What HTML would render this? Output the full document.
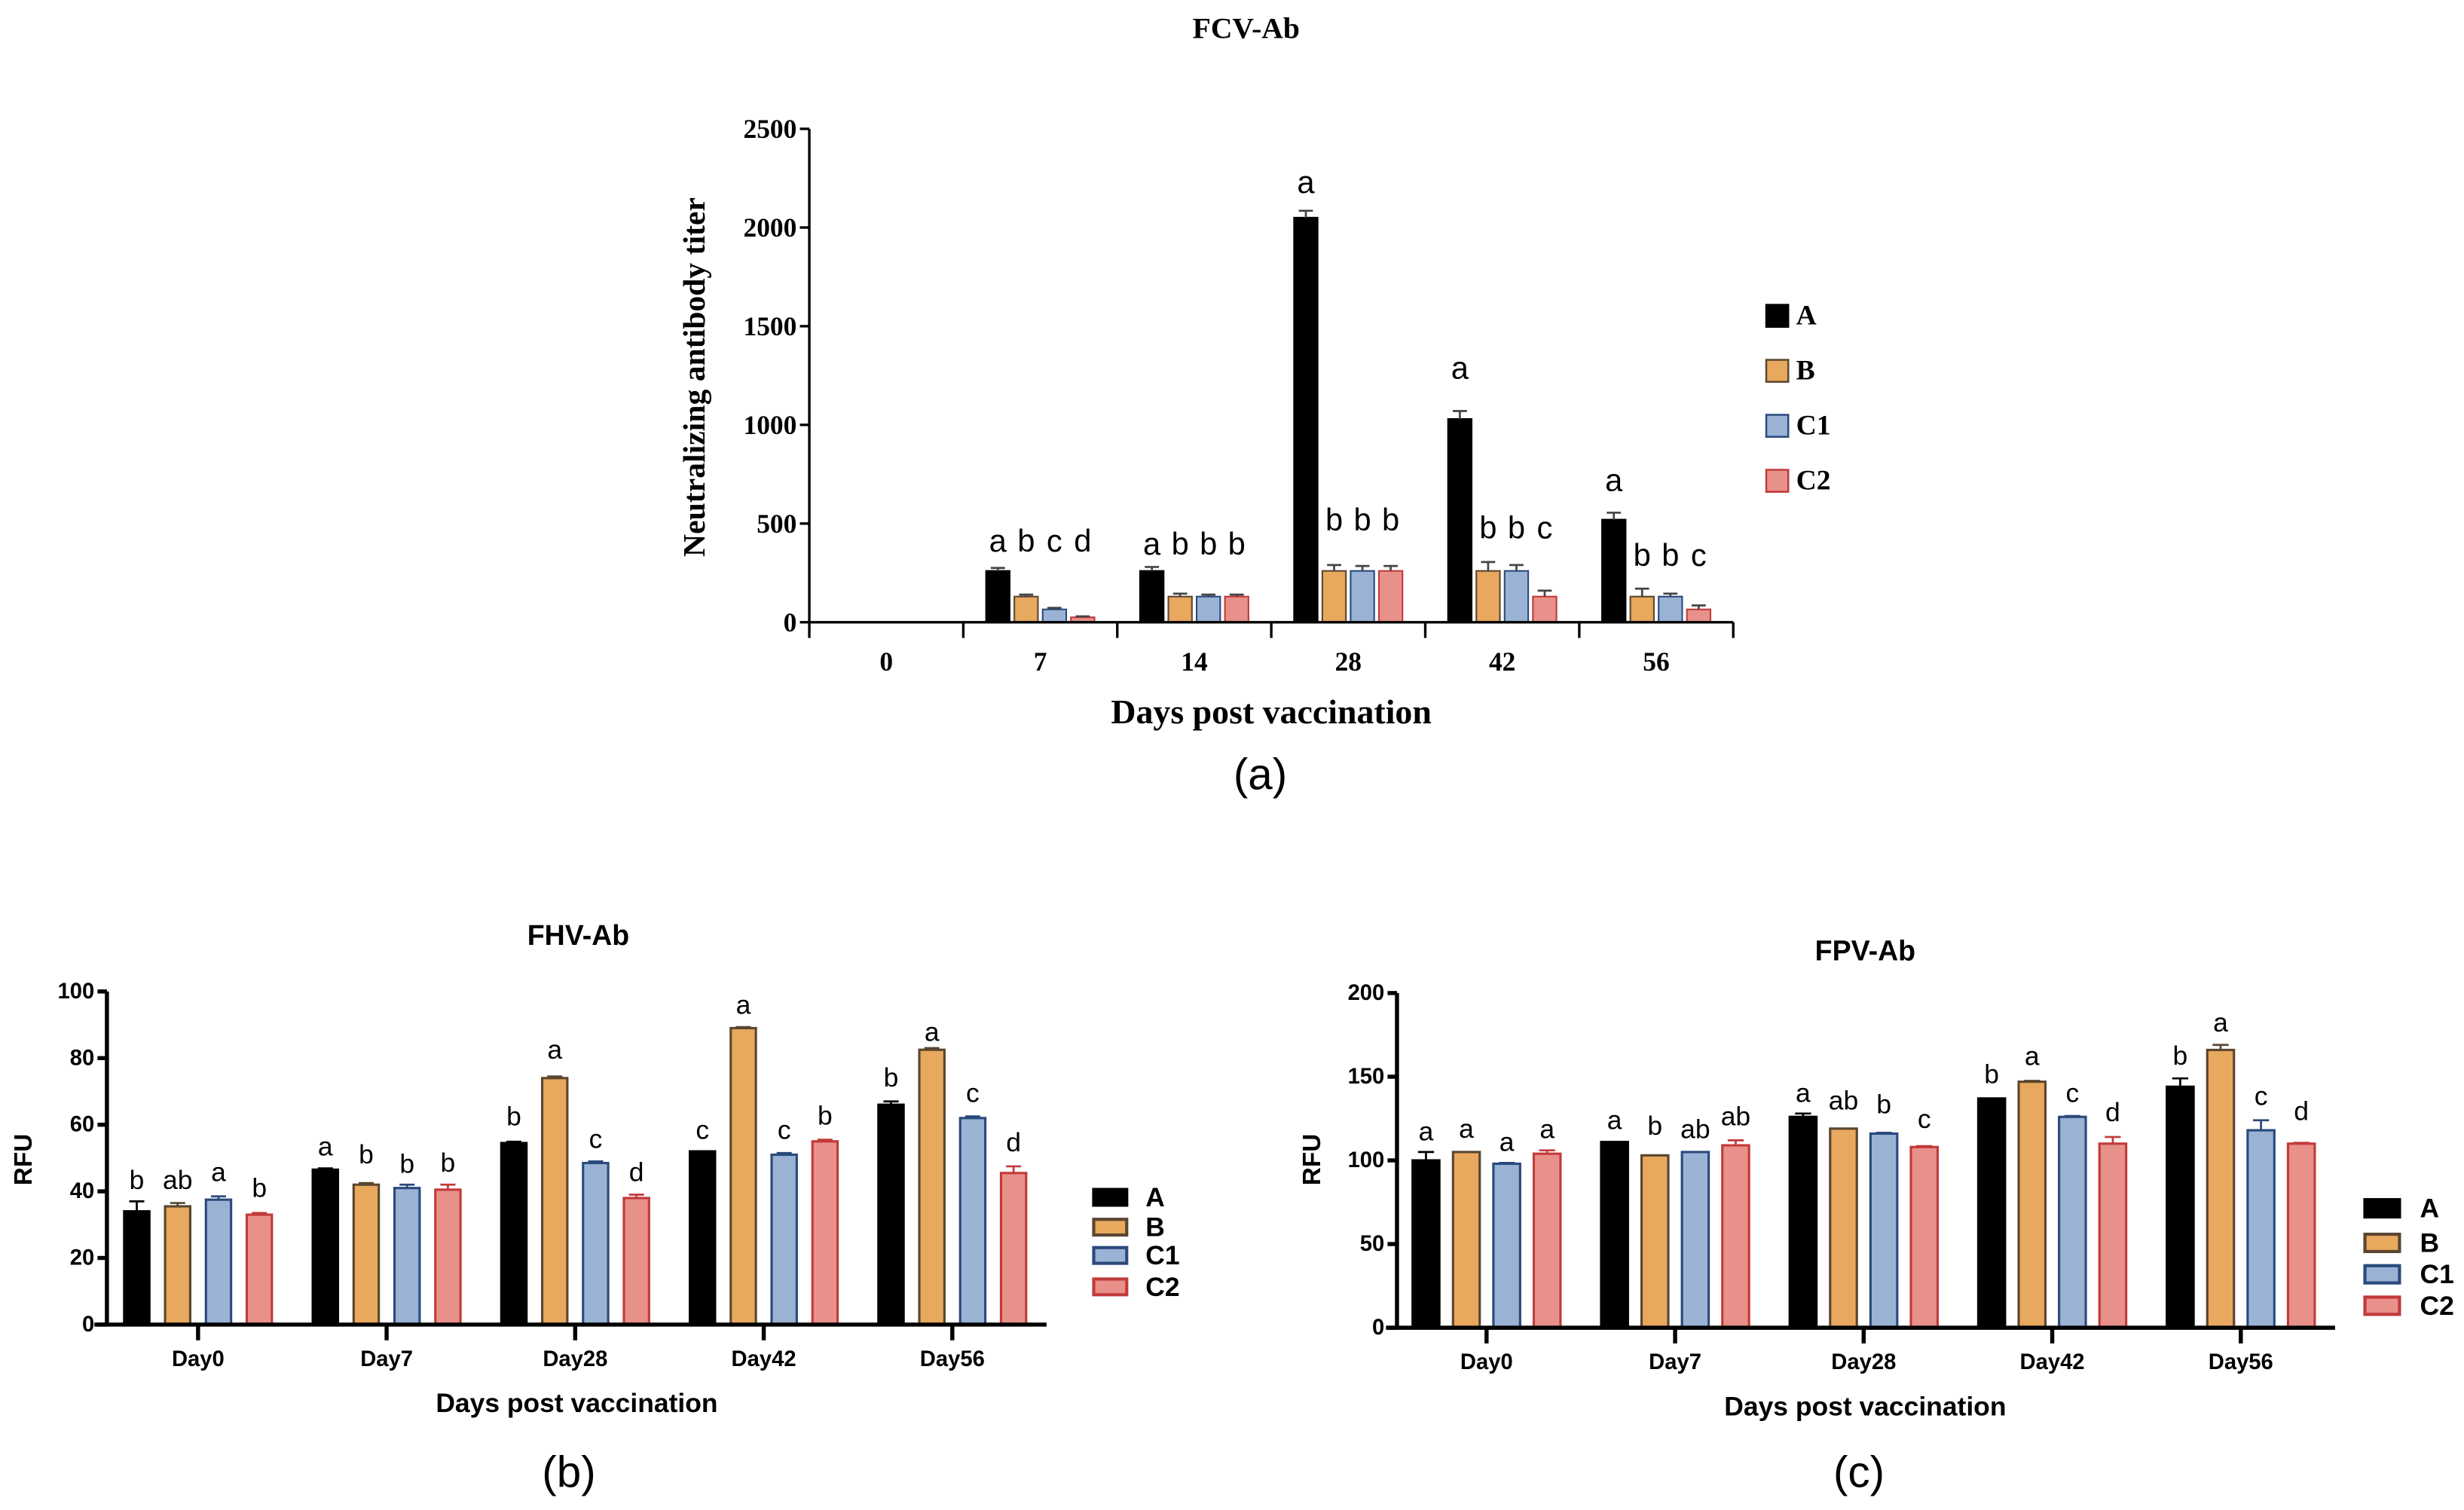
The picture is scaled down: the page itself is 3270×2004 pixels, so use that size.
<!DOCTYPE html>
<html><head><meta charset="utf-8"><style>
html,body{margin:0;padding:0;background:#fff;}
svg{display:block;}
.serif{font-family:"Liberation Serif",serif;font-weight:bold;}
.sans{font-family:"Liberation Sans",sans-serif;}
</style></head><body>
<svg id="fig" width="3270" height="2004" viewBox="0 0 1568 961" xmlns="http://www.w3.org/2000/svg">
<g id="ga"></g>
<g id="gb"></g>
<g id="gc"></g>
</svg>
<script>
// ---- Chart (a) FCV-Ab data ----
const aCats = ["0","7","14","28","42","56"];
const aTicks = [0,500,1000,1500,2000,2500];
const aA  = [0,260,260,2050,1030,520];
const aB  = [0,130,130,260,260,130];
const aC1 = [0,65,130,260,260,130];
const aC2 = [0,25,130,260,130,65];
const aErrA  = [0,15,20,35,40,35];
const aErrB  = [0,10,15,30,45,40];
const aErrC1 = [0,8,10,25,30,15];
const aErrC2 = [0,5,10,25,30,20];
const aLetA  = ["","a","a","a","a","a"];
const aLetB  = ["","b","b","b","b","b"];
const aLetC1 = ["","c","b","b","b","b"];
const aLetC2 = ["","d","b","b","c","c"];
const aLvlA  = [0,414,398,2230,1290,720];
const aLvlB  = [0,414,398,520,480,340];
const aLvlC1 = [0,414,398,520,480,340];
const aLvlC2 = [0,414,398,520,480,340];

// ---- Chart (b) FHV-Ab data ----
const bCats = ["Day0","Day7","Day28","Day42","Day56"];
const bTicks = [0,20,40,60,80,100];
const bA  = [34,46.5,54.5,52,66];
const bB  = [35.5,42,74,89,82.5];
const bC1 = [37.5,41,48.5,51,62];
const bC2 = [33,40.5,38,55,45.5];
const bErrA  = [3,0.4,0.4,0,1];
const bErrB  = [1,0.5,0.5,0.3,0.5];
const bErrC1 = [1,1,0.5,0.5,0.5];
const bErrC2 = [0.5,1.5,1,0.5,2];
const bLetA  = ["b","a","b","c","b"];
const bLetB  = ["ab","b","a","a","a"];
const bLetC1 = ["a","b","c","c","c"];
const bLetC2 = ["b","b","d","b","d"];
const bLvlA  = [43.4,53.5,62.5,58.5,74.2];
const bLvlB  = [43.4,51.1,82.6,96.0,87.9];
const bLvlC1 = [45.8,48.3,55.7,58.5,69.5];
const bLvlC2 = [41.0,48.6,45.8,62.7,54.7];

// ---- Chart (c) FPV-Ab data ----
const cCats = ["Day0","Day7","Day28","Day42","Day56"];
const cTicks = [0,50,100,150,200];
const cA  = [100,111,126,137,144];
const cB  = [105,103,119,147,166];
const cC1 = [98,105,116,126,118];
const cC2 = [104,109,108,110,110];
const cErrA  = [5,0,2,0,5];
const cErrB  = [0,0,0,0.5,3];
const cErrC1 = [0.5,0,0.5,0.5,6];
const cErrC2 = [2,3,0.5,4,0.5];
const cLetA  = ["a","a","a","b","b"];
const cLetB  = ["a","b","ab","a","a"];
const cLetC1 = ["a","ab","b","c","c"];
const cLetC2 = ["a","ab","c","d","d"];
const cLvlA  = [117.3,124.1,140.4,151.6,162.7];
const cLvlB  = [119,120.8,135.9,162.3,182.4];
const cLvlC1 = [111,118.8,133.6,140.4,138.4];
const cLvlC2 = [118.8,126.4,124.7,128.9,129.4];

const NS="http://www.w3.org/2000/svg";
function mk(parent,tag,attrs,text){
  const e=document.createElementNS(NS,tag);
  for(const k in attrs) e.setAttribute(k,attrs[k]);
  if(text!==undefined) e.textContent=text;
  parent.appendChild(e); return e;
}
const fills=["#000000","#E8A85E","#9AB3D5","#E8908A"];
const strokes=["#000000","#5a4630","#2a4a7c","#c23a3a"];
const names=["A","B","C1","C2"];

function draw(g,o){
  const yS=v=>o.y0-(v-o.vmin)/(o.vmax-o.vmin)*(o.y0-o.y1);
  const n=o.cats.length, cw=(o.x1-o.x0)/n;
  const cx=i=>o.x0+cw*(i+0.5);
  for(let s=0;s<4;s++){
    for(let i=0;i<n;i++){
      const v=o.vals[s][i]; if(v<=0) continue;
      const x=cx(i)+(s-1.5)*o.step-o.bw/2, y=yS(v);
      const r=mk(g,"rect",{x:x,y:y,width:o.bw,height:o.y0-y,fill:fills[s],stroke:strokes[s],"stroke-width":o.sw});
      
      
      const e=o.errs[s][i];
      if(e>0){
        const ec=o.errColor||strokes[s], ey=yS(v+e), mx=x+o.bw/2;
        const l=mk(g,"path",{d:`M${mx},${y}V${ey}M${mx-o.bw*0.3},${ey}H${mx+o.bw*0.3}`,stroke:ec,"stroke-width":1.3,fill:"none"});
        
        
      }
      const lt=o.lets[s][i];
      if(lt){
        const t=mk(g,"text",{x:cx(i)+(s-1.5)*o.step,y:yS(o.lvls[s][i]),"text-anchor":"middle","dominant-baseline":"central","font-size":o.letFs,class:"sans",fill:"#000"},lt);
        
        
      }
    }
  }
  const ax=mk(g,"path",{d:`M${o.yAxX},${o.y1}V${o.y0}M${o.xAxStart},${o.y0}H${o.x1}`,stroke:"#000","stroke-width":o.axW,fill:"none"});
  
  
  o.ticks.forEach(t=>{
    const y=yS(t);
    mk(g,"line",{x1:o.yAxX-6,x2:o.yAxX,y1:y,y2:y,stroke:"#000","stroke-width":o.axW});
    const tl=mk(g,"text",{x:o.yAxX-8,y:y,"text-anchor":"end","dominant-baseline":"central","font-size":o.tickFs,class:o.fcls},String(t));
    
    
  });
  for(let i=0;i<n;i++){
    if(o.boundaryTicks){
      mk(g,"line",{x1:o.x0+cw*i,x2:o.x0+cw*i,y1:o.y0,y2:o.y0+10,stroke:"#000","stroke-width":o.axW});
      if(i==n-1) mk(g,"line",{x1:o.x1,x2:o.x1,y1:o.y0,y2:o.y0+10,stroke:"#000","stroke-width":o.axW});
    } else {
      mk(g,"line",{x1:cx(i),x2:cx(i),y1:o.y0,y2:o.y0+10,stroke:"#000","stroke-width":o.axW});
    }
    const xl=mk(g,"text",{x:cx(i),y:o.xlabY,"text-anchor":"middle","dominant-baseline":"central","font-size":o.tickFs,class:o.fcls},o.cats[i]);
    
    
  }
  for(let s=0;s<4;s++){
    const ly=o.legY[s];
    const lr=mk(g,"rect",{x:o.legX,y:ly-o.legH/2,width:o.legW,height:o.legH,fill:fills[s],stroke:strokes[s],"stroke-width":o.legSw});
    
    
    const lt=mk(g,"text",{x:o.legTX,y:ly,"dominant-baseline":"central","font-size":o.legFs,class:o.fcls},names[s]);
    
    
  }
}

const ga=document.getElementById('ga'),gb=document.getElementById('gb'),gc=document.getElementById('gc');
draw(ga,{cats:aCats,ticks:aTicks,vals:[aA,aB,aC1,aC2],errs:[aErrA,aErrB,aErrC1,aErrC2],lets:[aLetA,aLetB,aLetC1,aLetC2],lvls:[aLvlA,aLvlB,aLvlC1,aLvlC2],
  vmin:0,vmax:2500,y0:396,y1:82,x0:515,x1:1103,yAxX:515,xAxStart:515,step:18,bw:15,sw:1,errColor:"#444",letFs:20,axW:1.6,tickFs:17,fcls:"serif",
  boundaryTicks:true,xlabY:421,legX:1124,legW:14,legH:14,legSw:1.2,legTX:1143,legFs:18,legY:[201,236,271,306]});
draw(gb,{cats:bCats,ticks:bTicks,vals:[bA,bB,bC1,bC2],errs:[bErrA,bErrB,bErrC1,bErrC2],lets:[bLetA,bLetB,bLetC1,bLetC2],lvls:[bLvlA,bLvlB,bLvlC1,bLvlC2],
  vmin:0,vmax:100,y0:843,y1:631,x0:66,x1:666,yAxX:68,xAxStart:60,step:26,bw:16,sw:1.5,letFs:17,axW:2.6,tickFs:14,fcls:"sans bold",
  boundaryTicks:false,xlabY:865,legX:696,legW:21,legH:10,legSw:2,legTX:729,legFs:17,legY:[762,781,799,819]});
draw(gc,{cats:cCats,ticks:cTicks,vals:[cA,cB,cC1,cC2],errs:[cErrA,cErrB,cErrC1,cErrC2],lets:[cLetA,cLetB,cLetC1,cLetC2],lvls:[cLvlA,cLvlB,cLvlC1,cLvlC2],
  vmin:0,vmax:200,y0:845,y1:632,x0:886,x1:1486,yAxX:889,xAxStart:882,step:25.7,bw:17,sw:1.5,letFs:17,axW:2.6,tickFs:14,fcls:"sans bold",
  boundaryTicks:false,xlabY:867,legX:1505,legW:22,legH:11,legSw:2,legTX:1540,legFs:17,legY:[769,791,811,831]});

function txt(g,name,x,y,s,fs,cls,extra){
  const a={x:x,y:y,"text-anchor":"middle","dominant-baseline":"central","font-size":fs,class:cls};
  for(const k in (extra||{})) a[k]=extra[k];
  const t=mk(g,"text",a,s);
  
  
}
txt(ga,'chart-title',793,18,'FCV-Ab',19,'serif');
txt(ga,'y-axis-title',442,240,'Neutralizing antibody titer',20,'serif',{transform:'rotate(-90 442 240)'});
txt(ga,'x-axis-title',809,453,'Days post vaccination',22,'serif');
txt(ga,'panel-label',802,493,'(a)',28,'sans');
txt(gb,'chart-title',368,595,'FHV-Ab',18,'sans',{'font-weight':'bold'});
txt(gb,'y-axis-title',15,738,'RFU',16,'sans',{'font-weight':'bold',transform:'rotate(-90 15 738)'});
txt(gb,'x-axis-title',367,893,'Days post vaccination',17,'sans',{'font-weight':'bold'});
txt(gb,'panel-label',362,937,'(b)',28,'sans');
txt(gc,'chart-title',1187,605,'FPV-Ab',18,'sans',{'font-weight':'bold'});
txt(gc,'y-axis-title',835,738,'RFU',16,'sans',{'font-weight':'bold',transform:'rotate(-90 835 738)'});
txt(gc,'x-axis-title',1187,895,'Days post vaccination',17,'sans',{'font-weight':'bold'});
txt(gc,'panel-label',1183,937,'(c)',28,'sans');
document.querySelectorAll('text.bold').forEach(t=>t.setAttribute('font-weight','bold'));
</script>
</body></html>
